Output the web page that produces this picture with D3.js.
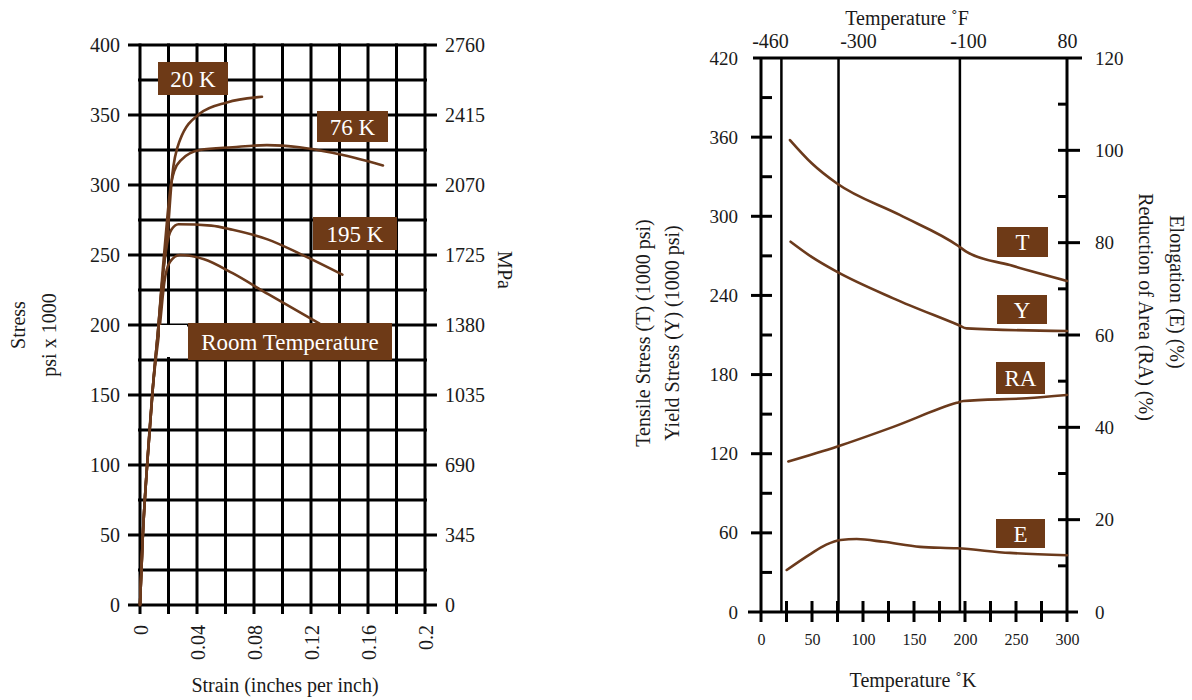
<!DOCTYPE html>
<html>
    <head>
        <style>
         body {
             margin: 0;
             background-color: #ffffff;
         }
         svg text {
             font-family: "Liberation Serif", "Times New Roman", serif;
             fill: #1a1a1a;
         }
         .grid line, .frame line {
             stroke: #000;
         }
         .curve {
             fill: none;
             stroke: #6b3a1c;
             stroke-width: 2.6;
             stroke-linecap: round;
         }
         .tag rect {
             fill: #6e3a17;
         }
         .tag text {
             fill: #fff;
             font-size: 23px;
             text-anchor: middle;
         }
         .axis path {
             display: none;
         }
         .axis line {
             display: none;
         }
        </style>
        <script src="https://d3js.org/d3.v7.min.js"></script>
    </head>
    <body>
        <svg id="chart" width="1192" height="700"></svg>
        <script>
         // ---- left chart: stress vs strain ----
         var strainTicks = [0, 0.04, 0.08, 0.12, 0.16, 0.2];
         var stressTicks = [0, 50, 100, 150, 200, 250, 300, 350, 400];
         var mpaTicks = [0, 345, 690, 1035, 1380, 1725, 2070, 2415, 2760];

         var curve20K = [[0, 0], [0.002, 50], [0.005, 100], [0.009, 155], [0.013, 200], [0.016, 235],
                         [0.0196, 268], [0.0225, 306], [0.028, 332], [0.042, 351], [0.061, 359], [0.0856, 363]];
         var curve76K = [[0, 0], [0.002, 50], [0.005, 100], [0.009, 155], [0.013, 200], [0.016, 240],
                         [0.019, 275], [0.021, 295], [0.024, 310], [0.029, 318], [0.042, 325], [0.065, 327],
                         [0.089, 328.5], [0.112, 327], [0.135, 323], [0.1705, 314]];
         var curve195K = [[0, 0], [0.002, 50], [0.005, 100], [0.009, 155], [0.013, 200], [0.016, 235],
                          [0.019, 258], [0.022, 268], [0.027, 272], [0.05, 271], [0.065, 268], [0.09, 261],
                          [0.112, 251], [0.142, 236]];
         var curveRoom = [[0, 0], [0.002, 50], [0.005, 100], [0.009, 155], [0.014, 200], [0.017, 230],
                          [0.021, 245], [0.028, 250], [0.045, 247], [0.065, 237], [0.09, 222], [0.126, 201]];

         // ---- right chart: properties vs temperature ----
         var kelvinTicks = [0, 50, 100, 150, 200, 250, 300];
         var fahrenheitTicks = [-460, -300, -100, 80];
         var ksiTicks = [0, 60, 120, 180, 240, 300, 360, 420];
         var pctTicks = [0, 20, 40, 60, 80, 100, 120];
         var testTemps = [20, 76, 195];

         var tensile = [[28.4, 357.8], [50, 340], [74.2, 325], [136, 301], [193.5, 277.5], [201.6, 273], [244, 263], [300, 251]];
         var yieldS = [[29, 280.7], [50, 269], [74.2, 258], [129.7, 237.8], [193.5, 217.6], [201.6, 215], [300, 213]];
         var redArea = [[26.8, 32.6], [74.2, 35.8], [129.7, 40.1], [191.9, 45.3], [198.4, 45.7], [260.5, 46.3], [300, 47]];
         var elong = [[25.2, 9.1], [48, 12.5], [64, 14.6], [78, 15.6], [93.8, 15.8], [120, 15.2], [156, 14.1], [192, 13.8], [244, 12.8], [300, 12.3]];

         var svg = d3.select("#chart");
         var plain = function(d) { return String(d); };

         // ================= LEFT =================
         var x = d3.scaleLinear().domain([0, 0.2]).range([140, 425]),
             y = d3.scaleLinear().domain([0, 400]).range([605, 45]),
             yMpa = d3.scaleLinear().domain([0, 2760]).range([605, 45]);

         var grid = svg.append("g").attr("class", "grid");
         grid.selectAll(".v")
             .data(d3.range(0, 11).map(function(i) { return i * 0.02; }))
             .enter().append("line")
             .attr("x1", function(d) { return x(d); })
             .attr("x2", function(d) { return x(d); })
             .attr("y1", y(400) - 1.5)
             .attr("y2", y(0) + 9)
             .attr("stroke-width", 3);
         grid.selectAll(".h")
             .data(d3.range(0, 17).map(function(i) { return i * 25; }))
             .enter().append("line")
             .attr("x1", function(d) { return d % 50 === 0 ? x(0) - 12 : x(0) - 2; })
             .attr("x2", function(d) { return d % 50 === 0 ? x(0.2) + 12 : x(0.2) + 2; })
             .attr("y1", function(d) { return y(d); })
             .attr("y2", function(d) { return y(d); })
             .attr("stroke-width", 3);

         svg.append("g")
            .attr("class", "axis")
            .attr("transform", "translate(" + x(0) + ",0)")
            .call(d3.axisLeft(y).tickValues(stressTicks).tickSize(0).tickPadding(20).tickFormat(plain))
            .selectAll("text").style("font-size", "20px");

         svg.append("g")
            .attr("class", "axis")
            .attr("transform", "translate(" + x(0.2) + ",0)")
            .call(d3.axisRight(yMpa).tickValues(mpaTicks).tickSize(0).tickPadding(20).tickFormat(plain))
            .selectAll("text").style("font-size", "20px");

         svg.append("g")
            .attr("class", "axis")
            .attr("transform", "translate(0," + y(0) + ")")
            .call(d3.axisBottom(x).tickValues(strainTicks).tickSize(0).tickFormat(d3.format(".2~f")))
            .selectAll("text")
            .style("font-size", "20px")
            .attr("transform", "rotate(-90)")
            .attr("text-anchor", "end")
            .attr("x", -20)
            .attr("y", 0)
            .attr("dy", "0.35em");

         var line = d3.line()
                      .x(function(d) { return x(d[0]); })
                      .y(function(d) { return y(d[1]); })
                      .curve(d3.curveMonotoneX);

         svg.selectAll(".curve-left")
            .data([curve20K, curve76K, curve195K, curveRoom])
            .enter().append("path")
            .attr("class", "curve")
            .attr("d", line);

         // white patch left of the room temperature tag
         svg.append("rect")
            .attr("x", 160).attr("y", 325).attr("width", 27).attr("height", 32)
            .attr("fill", "#fff");

         var leftTags = [
             {t: "20 K", x: 158, y: 62, w: 70, h: 33},
             {t: "76 K", x: 317, y: 111, w: 71, h: 31},
             {t: "195 K", x: 313, y: 217, w: 84, h: 33},
             {t: "Room Temperature", x: 188, y: 323, w: 204, h: 37}
         ];

         function drawTags(list) {
             var g = svg.selectAll(null).data(list).enter().append("g").attr("class", "tag");
             g.append("rect")
              .attr("x", function(d) { return d.x; })
              .attr("y", function(d) { return d.y; })
              .attr("width", function(d) { return d.w; })
              .attr("height", function(d) { return d.h; });
             g.append("text")
              .attr("x", function(d) { return d.x + d.w / 2; })
              .attr("y", function(d) { return d.y + d.h / 2; })
              .attr("dy", "0.36em")
              .text(function(d) { return d.t; });
         }
         drawTags(leftTags);

         svg.append("text")
            .attr("transform", "translate(18,325) rotate(-90)")
            .attr("text-anchor", "middle").attr("dy", "0.35em")
            .style("font-size", "20px").text("Stress");
         svg.append("text")
            .attr("transform", "translate(49,335) rotate(-90)")
            .attr("text-anchor", "middle").attr("dy", "0.35em")
            .style("font-size", "20px").text("psi x 1000");
         svg.append("text")
            .attr("transform", "translate(505,270) rotate(90)")
            .attr("text-anchor", "middle").attr("dy", "0.35em")
            .style("font-size", "20px").text("MPa");
         svg.append("text")
            .attr("x", 285).attr("y", 692)
            .attr("text-anchor", "middle")
            .style("font-size", "20px").text("Strain (inches per inch)");

         // ================= RIGHT =================
         var xk = d3.scaleLinear().domain([0, 300]).range([761, 1067]),
             xf = d3.scaleLinear().domain([-460, 80]).range([770, 1067]),
             ys = d3.scaleLinear().domain([0, 420]).range([612, 58]),
             yp = d3.scaleLinear().domain([0, 120]).range([612, 58]);

         var frame = svg.append("g").attr("class", "frame");
         // top and bottom rules
         frame.append("line").attr("x1", 753).attr("x2", 1082).attr("y1", ys(420)).attr("y2", ys(420)).attr("stroke-width", 3);
         frame.append("line").attr("x1", 748).attr("x2", 1078).attr("y1", ys(0)).attr("y2", ys(0)).attr("stroke-width", 3);
         // left and right axes
         frame.append("line").attr("x1", xk(0)).attr("x2", xk(0)).attr("y1", ys(420)).attr("y2", ys(0) + 10).attr("stroke-width", 3);
         frame.append("line").attr("x1", xk(300)).attr("x2", xk(300)).attr("y1", ys(420)).attr("y2", ys(0) + 10).attr("stroke-width", 3);
         // test temperature lines
         frame.selectAll(".tt")
              .data(testTemps)
              .enter().append("line")
              .attr("x1", function(d) { return xk(d); })
              .attr("x2", function(d) { return xk(d); })
              .attr("y1", ys(420))
              .attr("y2", ys(0))
              .attr("stroke-width", 2.5);
         // left ticks (every 30)
         frame.selectAll(".lt")
              .data(d3.range(1, 14).map(function(i) { return i * 30; }))
              .enter().append("line")
              .attr("x1", function(d) { return d % 60 === 0 ? xk(0) - 10 : xk(0); })
              .attr("x2", xk(0) + 11)
              .attr("y1", function(d) { return ys(d); })
              .attr("y2", function(d) { return ys(d); })
              .attr("stroke-width", 3);
         // right ticks (every 10)
         frame.selectAll(".rt")
              .data(d3.range(1, 12).map(function(i) { return i * 10; }))
              .enter().append("line")
              .attr("x1", xk(300) - 9)
              .attr("x2", function(d) { return d % 20 === 0 ? xk(300) + 13 : xk(300); })
              .attr("y1", function(d) { return yp(d); })
              .attr("y2", function(d) { return yp(d); })
              .attr("stroke-width", 3);
         // bottom ticks (every 25)
         frame.selectAll(".bt")
              .data(d3.range(1, 12).map(function(i) { return i * 25; }))
              .enter().append("line")
              .attr("x1", function(d) { return xk(d); })
              .attr("x2", function(d) { return xk(d); })
              .attr("y1", ys(0) - 11)
              .attr("y2", ys(0) + 10)
              .attr("stroke-width", 3);

         svg.append("g")
            .attr("class", "axis")
            .attr("transform", "translate(" + xk(0) + ",0)")
            .call(d3.axisLeft(ys).tickValues(ksiTicks).tickSize(0).tickPadding(23).tickFormat(plain))
            .selectAll("text").style("font-size", "19px");
         svg.append("g")
            .attr("class", "axis")
            .attr("transform", "translate(" + xk(300) + ",0)")
            .call(d3.axisRight(yp).tickValues(pctTicks).tickSize(0).tickPadding(28).tickFormat(plain))
            .selectAll("text").style("font-size", "19px");
         svg.append("g")
            .attr("class", "axis")
            .attr("transform", "translate(0," + ys(0) + ")")
            .call(d3.axisBottom(xk).tickValues(kelvinTicks).tickSize(0).tickPadding(22).tickFormat(plain))
            .selectAll("text").style("font-size", "16px");
         svg.append("g")
            .attr("class", "axis")
            .attr("transform", "translate(0," + ys(420) + ")")
            .call(d3.axisTop(xf).tickValues(fahrenheitTicks).tickSize(0).tickPadding(10).tickFormat(plain))
            .selectAll("text").style("font-size", "20px");

         var lineS = d3.line()
                       .x(function(d) { return xk(d[0]); })
                       .y(function(d) { return ys(d[1]); })
                       .curve(d3.curveMonotoneX);
         var lineP = d3.line()
                       .x(function(d) { return xk(d[0]); })
                       .y(function(d) { return yp(d[1]); })
                       .curve(d3.curveMonotoneX);

         svg.selectAll(".curve-s")
            .data([tensile, yieldS])
            .enter().append("path")
            .attr("class", "curve")
            .attr("d", lineS);
         svg.selectAll(".curve-p")
            .data([redArea, elong])
            .enter().append("path")
            .attr("class", "curve")
            .attr("d", lineP);

         drawTags([
             {t: "T", x: 997, y: 227, w: 51, h: 30},
             {t: "Y", x: 997, y: 295, w: 50, h: 29},
             {t: "RA", x: 996, y: 362, w: 49, h: 32},
             {t: "E", x: 996, y: 519, w: 49, h: 29}
         ]);

         svg.append("text")
            .attr("x", 907).attr("y", 25)
            .attr("text-anchor", "middle")
            .style("font-size", "20px").text("Temperature ˚F");
         svg.append("text")
            .attr("x", 913).attr("y", 687)
            .attr("text-anchor", "middle")
            .style("font-size", "20px").text("Temperature ˚K");
         svg.append("text")
            .attr("transform", "translate(643,333) rotate(-90)")
            .attr("text-anchor", "middle").attr("dy", "0.35em")
            .style("font-size", "20px").text("Tensile Stress (T) (1000 psi)");
         svg.append("text")
            .attr("transform", "translate(672,333) rotate(-90)")
            .attr("text-anchor", "middle").attr("dy", "0.35em")
            .style("font-size", "20px").text("Yield Stress (Y) (1000 psi)");
         svg.append("text")
            .attr("transform", "translate(1177,292) rotate(90)")
            .attr("text-anchor", "middle").attr("dy", "0.35em")
            .style("font-size", "20px").text("Elongation (E) (%)");
         svg.append("text")
            .attr("transform", "translate(1146,307) rotate(90)")
            .attr("text-anchor", "middle").attr("dy", "0.35em")
            .style("font-size", "20px").text("Reduction of Area (RA) (%)");
        </script>
    </body>
</html>
